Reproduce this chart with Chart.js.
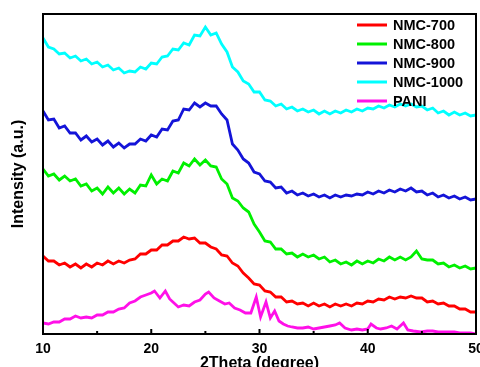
<!DOCTYPE html>
<html>
<head>
<meta charset="utf-8">
<script src="https://cdn.jsdelivr.net/npm/chart.js@4.4.1/dist/chart.umd.min.js"></script>
<style>
  html, body { margin: 0; padding: 0; background: #fff; }
  #wrap { width: 480px; height: 367px; }
</style>
</head>
<body>
<div id="wrap"><canvas id="xrd"></canvas></div>
<script>
// 2theta grid (degree) shared by the NMC curves
const theta = [10, 10.5, 11, 11.5, 12, 12.5, 13, 13.5, 14, 14.5, 15, 15.5, 16, 16.5, 17, 17.5,
  18, 18.5, 19, 19.5, 20, 20.5, 21, 21.5, 22, 22.5, 23, 23.5, 24, 24.5, 25, 25.5, 26, 26.5,
  27, 27.5, 28, 28.5, 29, 29.5, 30, 30.5, 31, 31.5, 32, 32.5, 33, 33.5, 34, 34.5, 35, 35.5,
  36, 36.5, 37, 37.5, 38, 38.5, 39, 39.5, 40, 40.5, 41, 41.5, 42, 42.5, 43, 43.5, 44, 44.5,
  45, 45.5, 46, 46.5, 47, 47.5, 48, 48.5, 49, 49.5, 50];

// intensities (a.u., curves stacked with offsets as in the figure)
const nmc700 = [78, 73, 73, 69, 71, 67, 70, 66, 70, 67, 71, 69, 73, 70, 73, 71,
  74, 75, 80, 80, 84, 84, 89, 89, 93, 93, 97, 95, 96, 91, 91, 87, 85, 79,
  78, 71, 68, 61, 56, 50, 49, 43, 42, 37, 37, 32, 33, 30, 31, 28, 31, 28,
  30, 27, 30, 28, 30, 28, 31, 30, 33, 32, 35, 34, 37, 35, 37, 36, 38, 36,
  36, 32, 33, 30, 31, 28, 28, 25, 25, 22, 22];

const nmc800 = [165, 158, 160, 154, 158, 153, 155, 148, 150, 143, 146, 140, 147, 141, 146, 140,
  145, 141, 149, 148, 159, 150, 155, 153, 163, 161, 171, 168, 175, 169, 174, 168, 167, 155,
  150, 136, 133, 126, 122, 110, 102, 93, 92, 85, 85, 80, 81, 77, 80, 77, 79, 75,
  77, 72, 74, 70, 72, 69, 73, 70, 73, 71, 75, 73, 77, 74, 77, 74, 77, 83,
  75, 74, 74, 70, 71, 67, 69, 66, 68, 65, 66];

const nmc900 = [223, 214, 215, 206, 208, 201, 201, 194, 198, 192, 195, 189, 193, 187, 191, 186,
  190, 190, 195, 193, 199, 197, 205, 204, 213, 214, 225, 224, 231, 227, 231, 228, 228, 220,
  214, 190, 184, 175, 171, 162, 160, 153, 152, 146, 147, 141, 143, 139, 141, 138, 140, 137,
  139, 136, 139, 137, 139, 138, 140, 139, 142, 140, 143, 141, 144, 142, 145, 143, 146, 142,
  143, 139, 141, 137, 139, 136, 138, 135, 137, 134, 135];

const nmc1000 = [296, 287, 285, 280, 281, 276, 278, 273, 275, 270, 272, 267, 269, 264, 266, 261,
  263, 262, 267, 265, 271, 270, 277, 278, 285, 284, 291, 289, 299, 298, 307, 299, 301, 290,
  282, 267, 262, 253, 250, 242, 242, 234, 233, 228, 230, 225, 227, 223, 225, 222, 224, 220,
  223, 220, 223, 221, 224, 222, 225, 223, 226, 225, 228, 226, 229, 227, 230, 228, 230, 227,
  228, 224, 226, 221, 223, 219, 222, 219, 221, 218, 219];

// PANI has sharp reflections, so it has its own 2theta points
const thetaPani = [10, 10.5, 11, 11.5, 12, 12.5, 13, 13.5, 14, 14.5, 15, 15.5, 16, 16.5, 17, 17.5,
  18, 18.5, 19, 19.5, 20, 20.3, 20.8, 21.3, 21.7, 22, 22.5, 23, 23.5, 24, 24.5, 25, 25.3, 25.8,
  26.3, 26.8, 27.2, 27.7, 28.2, 28.7, 29.2, 29.7, 30.1, 30.6, 31, 31.4, 31.8, 32.2, 32.6, 33,
  33.5, 34, 34.5, 35, 35.5, 36, 36.5, 37, 37.4, 37.9, 38.5, 39, 39.5, 40, 40.3, 40.8, 41.2,
  41.7, 42.2, 42.7, 43.3, 43.7, 44.2, 44.9, 45.5, 46, 46.5, 47, 47.5, 48, 48.5, 49, 49.5, 50];
const pani = [11, 10, 12, 12, 15, 15, 18, 16, 17, 16, 19, 19, 22, 22, 25, 26,
  31, 33, 37, 39, 41, 43, 36, 43, 35, 32, 27, 29, 28, 32, 34, 40, 42, 36,
  33, 30, 31, 26, 24, 21, 21, 37, 17, 32, 16, 23, 13, 10, 8, 7,
  6, 6, 7, 5, 6, 7, 8, 9, 11, 6, 4, 5, 4, 5, 10, 6, 5,
  6, 8, 5, 11, 4, 3, 2, 3, 3, 2, 2, 2, 2, 1, 1, 1, 0];

const seriesNames = ['NMC-700', 'NMC-800', 'NMC-900', 'NMC-1000', 'PANI'];
const seriesColors = ['#ff0000', '#00f000', '#1414d8', '#00ffff', '#ff10e8'];

const xMin = 10, xMax = 50;
const majorTicks = [10, 20, 30, 40, 50];
const minorTicks = [15, 25, 35, 45];

const toPoints = (xs, ys) => xs.map((x, i) => ({ x: x, y: ys[i] }));

const seriesData = [
  toPoints(theta, nmc700),
  toPoints(theta, nmc800),
  toPoints(theta, nmc900),
  toPoints(theta, nmc1000),
  toPoints(thetaPani, pani),
];

// box round the plot and inward ticks on the x axis
const frame = {
  id: 'frame',
  afterDatasetsDraw(chart) {
    const { ctx, chartArea: a, scales } = chart;
    ctx.save();
    ctx.strokeStyle = '#000';
    ctx.lineWidth = 2;
    ctx.strokeRect(a.left, a.top, a.right - a.left, a.bottom - a.top);
    ctx.beginPath();
    majorTicks.forEach((v) => {
      const px = scales.x.getPixelForValue(v);
      ctx.moveTo(px, a.bottom);
      ctx.lineTo(px, a.bottom - 5);
    });
    minorTicks.forEach((v) => {
      const px = scales.x.getPixelForValue(v);
      ctx.moveTo(px, a.bottom);
      ctx.lineTo(px, a.bottom - 3);
    });
    ctx.stroke();
    ctx.restore();
  },
};

// legend drawn inside the plot, top right
const insideLegend = {
  id: 'insideLegend',
  afterDatasetsDraw(chart) {
    const { ctx, chartArea: a } = chart;
    ctx.save();
    ctx.font = 'bold 14.5px "Liberation Sans", Arial, sans-serif';
    ctx.textBaseline = 'middle';
    chart.data.datasets.forEach((ds, i) => {
      const y = a.top + 11 + i * 19;
      ctx.strokeStyle = ds.borderColor;
      ctx.lineWidth = 3;
      ctx.beginPath();
      ctx.moveTo(a.right - 119, y);
      ctx.lineTo(a.right - 89, y);
      ctx.stroke();
      ctx.fillStyle = '#000';
      ctx.fillText(ds.label, a.right - 83, y + 0.5);
    });
    ctx.restore();
  },
};

Chart.defaults.font.family = '"Liberation Sans", Arial, sans-serif';
Chart.defaults.color = '#000';

new Chart(document.getElementById('xrd'), {
  type: 'line',
  data: {
    datasets: seriesNames.map((name, i) => ({
      label: name,
      data: seriesData[i],
      borderColor: seriesColors[i],
      backgroundColor: seriesColors[i],
      borderWidth: 2.8,
      pointRadius: 0,
      tension: 0,
      fill: false,
    })),
  },
  options: {
    responsive: true,
    maintainAspectRatio: false,
    animation: false,
    layout: { padding: { top: 14, right: 4, left: 0, bottom: 0 } },
    plugins: {
      legend: { display: false },
      tooltip: { enabled: false },
    },
    scales: {
      x: {
        type: 'linear',
        min: xMin,
        max: xMax,
        afterFit: (s) => {
          s.height = 33;
          s.paddingLeft = 0;
          s.paddingRight = 0;
        },
        grid: { display: false, drawTicks: false },
        border: { display: true, color: '#000', width: 2 },
        ticks: {
          stepSize: 10,
          padding: 6.5,
          maxRotation: 0,
          font: { size: 14, weight: 'bold' },
        },
        title: {
          display: true,
          text: '2Theta (degree)',
          font: { size: 16, weight: 'bold' },
          padding: { top: 0, bottom: -6 },
        },
      },
      y: {
        min: 0,
        max: 320,
        afterFit: (s) => {
          s.width = 43;
          s.paddingTop = 0;
          s.paddingBottom = 0;
        },
        grid: { display: false, drawTicks: false },
        border: { display: true, color: '#000', width: 2 },
        ticks: { display: false },
        title: {
          display: true,
          text: 'Intensity (a.u.)',
          font: { size: 16, weight: 'bold' },
          padding: { top: 9, bottom: 0 },
        },
      },
    },
  },
  plugins: [frame, insideLegend],
});
</script>
</body>
</html>
